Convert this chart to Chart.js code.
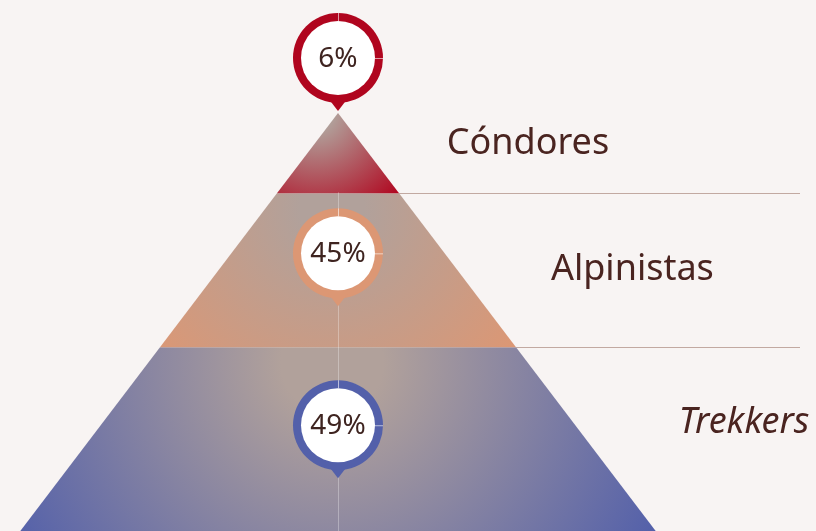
<!DOCTYPE html>
<html>
<head>
<meta charset="utf-8">
<script src="https://cdn.jsdelivr.net/npm/chart.js@4.4.1/dist/chart.umd.min.js"></script>
<style>
  html, body { margin: 0; padding: 0; background: #f8f4f3; }
  #wrap { width: 816px; height: 531px; }
</style>
</head>
<body>
<div id="wrap"><canvas id="pyramid"></canvas></div>
<script>
// Tiers, top to bottom
const categories = ['Cóndores', 'Alpinistas', 'Trekkers'];
const shares = [6, 45, 49];
const tierColors = ['#b0051e', '#dc9774', '#5360aa'];
const italicLabels = [false, false, true];

const GRAY = '#b1a19b';
const TEXT = '#4a2420';
const SLOPE = 0.76;       // half width per unit of depth
const UNIT = 328;         // px per unit of depth
const APEX_X = 338, APEX_Y = 113;

// tier boundaries: area of each tier follows its share, so depth = sqrt(cumulative share)
let cum = 0;
const bounds = [0];
shares.forEach(v => { cum += v; bounds.push(Math.sqrt(cum / 100)); });

const yMin = -APEX_Y / UNIT, yMax = (531 - APEX_Y) / UNIT;
const xMin = -APEX_X / UNIT, xMax = (816 - APEX_X) / UNIT;

function tierPoints(i) {
    const t = bounds[i];
    const b = i === shares.length - 1 ? yMax : bounds[i + 1]; // last tier runs off the bottom
    return [
        { x: -SLOPE * t, y: t }, { x: SLOPE * t, y: t },
        { x: SLOPE * b, y: b }, { x: -SLOPE * b, y: b },
        { x: -SLOPE * t, y: t }
    ];
}

function tierGradient(ctx) {
    const chart = ctx.chart;
    const i = ctx.datasetIndex;
    if (!chart.chartArea) return tierColors[i];
    const xs = chart.scales.x, ys = chart.scales.y;
    const pts = tierPoints(i);
    const cx = xs.getPixelForValue(0) - (i === 0 ? 22 : 6);
    const cy = ys.getPixelForValue(pts[0].y) + (i === 0 ? 0 : 15);
    const bx = xs.getPixelForValue(pts[2].x);
    const by = Math.min(ys.getPixelForValue(pts[2].y), chart.chartArea.bottom);
    const r = Math.hypot(bx - cx, by - cy);
    const g = chart.ctx.createRadialGradient(cx, cy, 0, cx, cy, r);
    g.addColorStop(0, GRAY);
    g.addColorStop(0.14, GRAY);
    g.addColorStop(1, tierColors[i]);
    return g;
}

const decor = {
    id: 'pyramidDecor',
    afterDatasetsDraw(chart, args, opts) {
        const c = chart.ctx;
        const xs = chart.scales.x, ys = chart.scales.y;
        const cx = xs.getPixelForValue(0);
        const apexY = ys.getPixelForValue(0);
        c.save();

        // divider lines between tiers
        c.strokeStyle = '#c2a9a1';
        c.lineWidth = 1;
        for (let i = 1; i < shares.length; i++) {
            const y = Math.round(ys.getPixelForValue(bounds[i])) + 0.5;
            c.beginPath();
            c.moveTo(xs.getPixelForValue(SLOPE * bounds[i]), y);
            c.lineTo(800, y);
            c.stroke();
        }

        // faint centre line
        c.strokeStyle = 'rgba(255,255,255,0.3)';
        c.beginPath();
        c.moveTo(cx + 0.5, ys.getPixelForValue(bounds[1]) - 1);
        c.lineTo(cx + 0.5, chart.chartArea.bottom);
        c.stroke();

        // tier labels
        c.fillStyle = TEXT;
        c.textBaseline = 'middle';
        c.textAlign = 'left';
        categories.forEach((name, i) => {
            const y = ys.getPixelForValue(bounds[i]) + opts.labelOffsets[i];
            const x = cx + 83 + 0.831 * (y - apexY);
            c.font = (italicLabels[i] ? 'italic ' : '') + '36px "Noto Sans"';
            c.fillText(name, x, y);
        });

        // pin markers with the share
        shares.forEach((v, i) => {
            const my = ys.getPixelForValue(bounds[i]) + opts.markerOffsets[i];
            const mx = cx;
            c.fillStyle = tierColors[i];
            c.beginPath();
            c.arc(mx, my, 45, 0, Math.PI * 2);
            c.fill();
            c.beginPath();
            c.moveTo(mx - 10, my + 40);
            c.lineTo(mx + 10, my + 40);
            c.lineTo(mx, my + 53);
            c.closePath();
            c.fill();
            c.fillStyle = '#ffffff';
            c.beginPath();
            c.arc(mx, my, 37, 0, Math.PI * 2);
            c.fill();
            // small gaps in the ring
            c.strokeStyle = 'rgba(255,255,255,0.6)';
            c.lineWidth = 1;
            c.beginPath();
            c.moveTo(mx + 0.5, my - 45); c.lineTo(mx + 0.5, my - 37);
            c.moveTo(mx + 37, my + 0.5); c.lineTo(mx + 45, my + 0.5);
            c.stroke();
            c.fillStyle = '#3e2420';
            c.textAlign = 'center';
            c.font = '28px "Noto Sans"';
            c.fillText(v + '%', mx, my + 1);
            c.textAlign = 'left';
        });
        c.restore();
    }
};

new Chart(document.getElementById('pyramid'), {
    type: 'scatter',
    data: {
        datasets: categories.map((name, i) => ({
            label: name,
            data: tierPoints(i),
            showLine: true,
            fill: 'shape',
            backgroundColor: tierGradient,
            borderWidth: 0,
            pointRadius: 0,
            tension: 0
        }))
    },
    options: {
        responsive: true,
        maintainAspectRatio: false,
        animation: false,
        layout: { padding: 0 },
        scales: {
            x: { type: 'linear', display: false, min: xMin, max: xMax },
            y: { type: 'linear', display: false, min: yMin, max: yMax, reverse: true }
        },
        plugins: {
            legend: { display: false },
            tooltip: { enabled: false },
            pyramidDecor: {
                labelOffsets: [31, 76, 76],
                markerOffsets: [-55, 60, 78]
            }
        }
    },
    plugins: [decor]
});
</script>
</body>
</html>
